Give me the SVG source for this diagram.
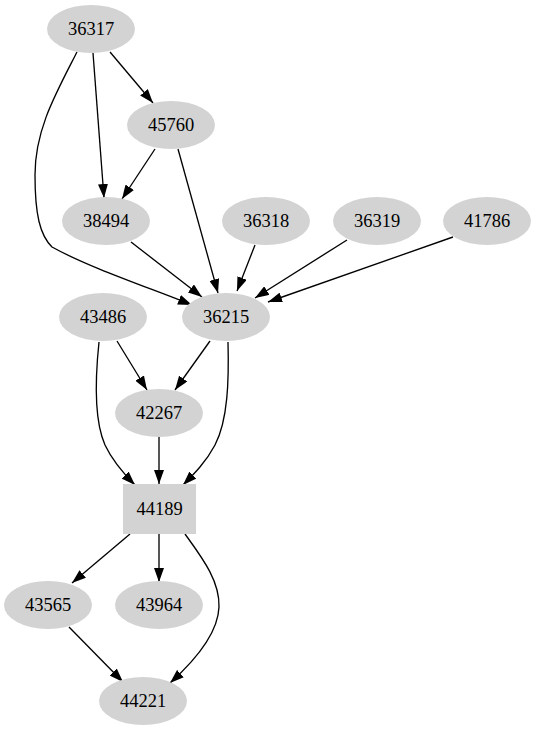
<svg xmlns="http://www.w3.org/2000/svg" width="536" height="731" viewBox="0 0 536 731">
<style>
.n{fill:#d3d3d3;stroke:none}
.t{font-family:"Liberation Serif","Times New Roman",serif;font-size:18.5px;fill:#000;text-anchor:middle}
.e{fill:none;stroke:#000;stroke-width:1.33;marker-end:url(#ah)}
</style>
<defs>
<marker id="ah" viewBox="0 0 14 10" refX="14" refY="5" markerWidth="14" markerHeight="10" orient="auto" markerUnits="userSpaceOnUse">
<path d="M0,0 L14,5 L0,10 z" fill="#000"/>
</marker>
</defs>
<rect width="536" height="731" fill="#fff"/>
<g id="edges">
<path class="e" d="M110,52 L153,103"/>
<path class="e" d="M93,53 L104,198"/>
<path class="e" d="M77,52 C55,95 35,130 35,175 C35,215 40,235 52,247 C90,268 150,288 192,305"/>
<path class="e" d="M155,149 L122,199"/>
<path class="e" d="M178,149 L218,293"/>
<path class="e" d="M131,242 L202,297"/>
<path class="e" d="M255,245 L237,291"/>
<path class="e" d="M347,240 L255,298"/>
<path class="e" d="M453,237 L268,302"/>
<path class="e" d="M117,341 L147,390"/>
<path class="e" d="M210,341 L175,390"/>
<path class="e" d="M99,342 C95,380 94,420 105,445 C113,462 124,474 135,485"/>
<path class="e" d="M228,342 C229,380 228,420 215,445 C206,462 194,474 183,485"/>
<path class="e" d="M159,437 L159,484"/>
<path class="e" d="M130,534 L72,583"/>
<path class="e" d="M159,534 L159,582"/>
<path class="e" d="M185,534 C200,555 220,580 219,607 C218,635 190,665 170,683"/>
<path class="e" d="M69,627 L123,682"/>
</g>
<g id="n36317"><ellipse class="n" cx="91" cy="29" rx="44" ry="24"/><text class="t" x="91" y="35">36317</text></g>
<g id="n45760"><ellipse class="n" cx="171" cy="125" rx="44" ry="24"/><text class="t" x="171" y="131">45760</text></g>
<g id="n38494"><ellipse class="n" cx="106" cy="221" rx="44" ry="24"/><text class="t" x="106" y="227">38494</text></g>
<g id="n36318"><ellipse class="n" cx="266" cy="221" rx="44" ry="24"/><text class="t" x="266" y="227">36318</text></g>
<g id="n36319"><ellipse class="n" cx="377" cy="221" rx="44" ry="24"/><text class="t" x="377" y="227">36319</text></g>
<g id="n41786"><ellipse class="n" cx="487" cy="221" rx="44" ry="24"/><text class="t" x="487" y="227">41786</text></g>
<g id="n43486"><ellipse class="n" cx="103" cy="317" rx="44" ry="24"/><text class="t" x="103" y="323">43486</text></g>
<g id="n36215"><ellipse class="n" cx="226" cy="317" rx="44" ry="24"/><text class="t" x="226" y="323">36215</text></g>
<g id="n42267"><ellipse class="n" cx="159" cy="413" rx="44" ry="24"/><text class="t" x="159" y="419">42267</text></g>
<g id="n44189"><rect class="n" x="123" y="484" width="73" height="50"/><text class="t" x="159.5" y="515">44189</text></g>
<g id="n43565"><ellipse class="n" cx="48" cy="605" rx="44" ry="24"/><text class="t" x="48" y="611">43565</text></g>
<g id="n43964"><ellipse class="n" cx="159" cy="605" rx="44" ry="24"/><text class="t" x="159" y="611">43964</text></g>
<g id="n44221"><ellipse class="n" cx="143" cy="701" rx="44" ry="24"/><text class="t" x="143" y="707">44221</text></g>
</svg>
